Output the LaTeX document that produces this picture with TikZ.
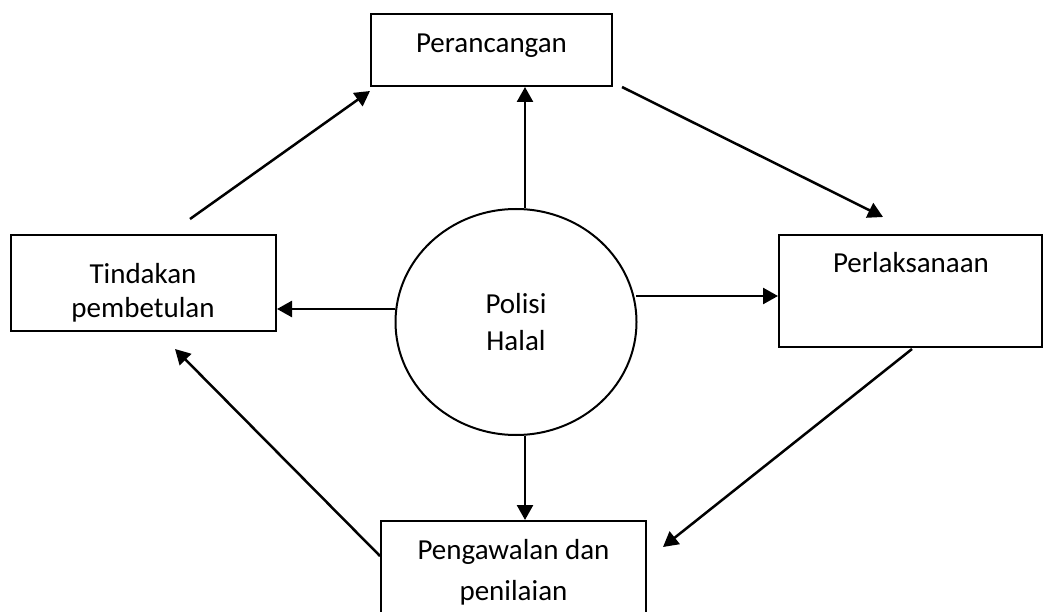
\documentclass[tikz,border=0pt]{standalone}
\usepackage{fontspec}
\setmainfont{Carlito}
\usetikzlibrary{shapes.geometric,arrows.meta,calc}
\begin{document}
\begin{tikzpicture}[x=1pt,y=-1pt,
  box/.style={draw,line width=2pt,rectangle,inner sep=0pt},
  oval/.style={draw,line width=2pt,ellipse,inner sep=0pt},
  txt/.style={inner sep=0pt,anchor=base,font=\fontsize{29}{36}\selectfont},
  arr/.style={line width=2.5pt,-{Triangle[length=15pt,width=16pt]}}]
\clip (0,0) rectangle (1044,612);
\fill[white] (0,0) rectangle (1044,612);
% boxes
\node[box,minimum width=241pt,minimum height=72pt] (per) at (491.5,50) {};
\node[box,minimum width=265pt,minimum height=96pt] (tin) at (143.5,283) {};
\node[box,minimum width=263pt,minimum height=112pt] (perl) at (910.5,291) {};
\node[box,minimum width=265pt,minimum height=119pt] (pen) at (513.5,580.5) {};
\node[oval,minimum width=241pt,minimum height=226pt] (pol) at (516,322) {};
% texts
\node[txt] (tper) at (491.5,53) {Perancangan};
\node[txt] (ttin1) at (143,284) {Tindakan};
\node[txt] (ttin2) at (143,317) {pembetulan};
\node[txt] (tperl) at (911,273) {Perlaksanaan};
\node[txt] (tpen1) at (513.5,559) {Pengawalan dan};
\node[txt] (tpen2) at (513.5,600) {penilaian};
\node[txt] (tpol1) at (516,313) {Polisi};
\node[txt] (tpol2) at (516,350) {Halal};
% connectors
\draw[arr] ([shift={(9,0.5)}]pol.north) -- ([shift={(33.5,0)}]per.south);
\draw[arr] ([shift={(9,-0.5)}]pol.south) -- ([shift={(11.5,0)}]pen.north);
\draw[arr] ([shift={(0.8,-13)}]pol.west) -- ([shift={(0,26)}]tin.east);
\draw[arr] ([shift={(-1.5,-26)}]pol.east) -- ([shift={(0,5)}]perl.west);
\draw[arr] ([shift={(46.5,-15)}]tin.north) -- ([shift={(0,4)}]per.south west);
\draw[arr] ([shift={(9,0)}]per.south east) -- ([shift={(-27.5,-17)}]perl.north);
\draw[arr] ([shift={(1.5,1)}]perl.south) -- ([shift={(16,27)}]pen.north east);
\draw[arr] ([shift={(0,36)}]pen.north west) -- ([shift={(165,17)}]tin.south west);
\end{tikzpicture}
\end{document}
